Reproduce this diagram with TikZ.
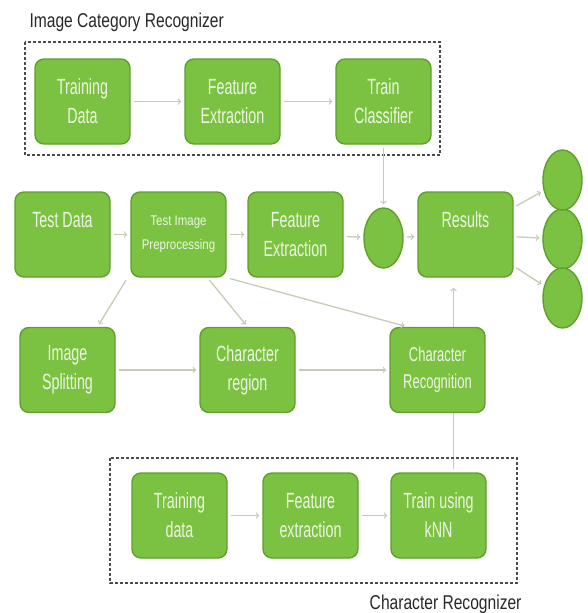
\documentclass[tikz,border=0pt]{standalone}
\usepackage{fontspec}
\usepackage{xcolor}
\usepackage{tikz}
\usetikzlibrary{shapes,arrows,positioning,calc,backgrounds}

\setmainfont{Liberation Sans}
\newfontfamily\boxfont[FakeStretch=0.65]{Liberation Sans}
\newfontfamily\smallfont[FakeStretch=0.82]{Liberation Sans}
\newfontfamily\labelfont[FakeStretch=0.78]{Liberation Sans}

\definecolor{boxfill}{RGB}{124,194,66}
\definecolor{boxedge}{RGB}{96,158,46}
\definecolor{boxtext}{RGB}{236,246,226}
\definecolor{arrowgray}{RGB}{196,204,182}
\definecolor{dashgray}{RGB}{75,75,75}
\definecolor{captiongray}{RGB}{40,40,40}

\begin{document}
\begin{tikzpicture}[x=1pt, y=1pt, node distance=150pt, auto,
    stage/.style={draw=boxedge, line width=1.4pt, fill=boxfill, rounded corners=9pt, minimum width=95pt, minimum height=85pt, inner sep=2pt, align=center, text=boxtext, font=\boxfont\fontsize{22}{29}\selectfont},
    blob/.style={draw=boxedge, line width=1.4pt, fill=boxfill, ellipse, minimum width=39pt, minimum height=60pt, inner sep=0pt},
    flow/.style={->, line width=1.3pt, draw=arrowgray, shorten >=3pt, shorten <=3pt},
    group/.style={draw=dashgray, line width=1.6pt, dash pattern=on 3pt off 2pt},
    caption/.style={text=captiongray, font=\labelfont\fontsize{20}{24}\selectfont}]
                \useasboundingbox (0,0) rectangle (587,-613);

                % image category recognizer
                \node[stage] (traindata) at (82.5,-101.5) {Training\\Data};
                \node[stage, right of=traindata] (featext) {Feature\\Extraction};
                \node[stage, node distance=151pt, right of=featext] (trainclf) {Train\\Classifier};
                \draw[group] (25,-42) rectangle (440,-155);
                \node[caption, anchor=west] (catname) at (26,-22) {Image Category Recognizer};

                % test path
                \node[stage] (testdata) at (62.5,-234.5) {Test Data\\~};
                \node[stage, node distance=116pt, right of=testdata, font=\smallfont\fontsize{14}{24}\selectfont] (preproc) {Test Image\\Preprocessing};
                \node[stage, node distance=117pt, right of=preproc] (featext2) {Feature\\Extraction};
                \node[blob, node distance=136.5pt, below of=trainclf] (fuse) {};
                \node[stage, node distance=170pt, right of=featext2] (results) {Results\\~};
                \node[blob] (out2) at (562.5,-239) {};
                \node[blob, node distance=59pt, above of=out2] (out1) {};
                \node[blob, node distance=59pt, below of=out2] (out3) {};

                % character path
                \node[stage] (split) at (67.5,-370) {Image\\Splitting};
                \node[stage, node distance=180pt, right of=split] (region) {Character\\region};
                \node[stage, node distance=190pt, right of=region, font=\boxfont\fontsize{20}{27}\selectfont] (charrec) {Character\\Recognition};

                % character recognizer
                \node[stage] (knndata) at (179.5,-515.5) {Training\\data};
                \node[stage, node distance=131pt, right of=knndata] (knnfeat) {Feature\\extraction};
                \node[stage, node distance=128pt, right of=knnfeat] (knntrain) {Train using\\kNN};
                \draw[group] (110,-458) rectangle (517,-583);
                \node[caption, anchor=east] (charname) at (525,-604) {Character Recognizer};

                \draw[flow] (traindata) -- (featext);
                \draw[flow] (featext) -- (trainclf);
                \draw[flow] (trainclf) -- (fuse);
                \draw[flow] (testdata) -- (preproc);
                \draw[flow] (preproc) -- (featext2);
                \draw[flow] (featext2) -- (fuse);
                \draw[flow] (fuse) -- (results);
                \draw[flow] (results) -- (out1);
                \draw[flow] (results) -- (out2);
                \draw[flow] (results) -- (out3);
                \draw[flow] ([xshift=-51pt]preproc.south) -- ([xshift=30pt]split.north);
                \draw[flow] ([xshift=29pt]preproc.south) -- (region.north);
                \draw[flow] (preproc.south east) -- ([xshift=-30pt]charrec.north);
                \draw[flow] (split) -- (region);
                \draw[flow] (region) -- (charrec);
                \draw[flow] (knndata) -- (knnfeat);
                \draw[flow] (knnfeat) -- (knntrain);
                \begin{pgfonlayer}{background}
                \draw[flow, shorten >=10pt] ([xshift=15pt]knntrain.north) -- ([xshift=15pt]knntrain.north |- results.south);
                \end{pgfonlayer}
            \end{tikzpicture}
\end{document}
